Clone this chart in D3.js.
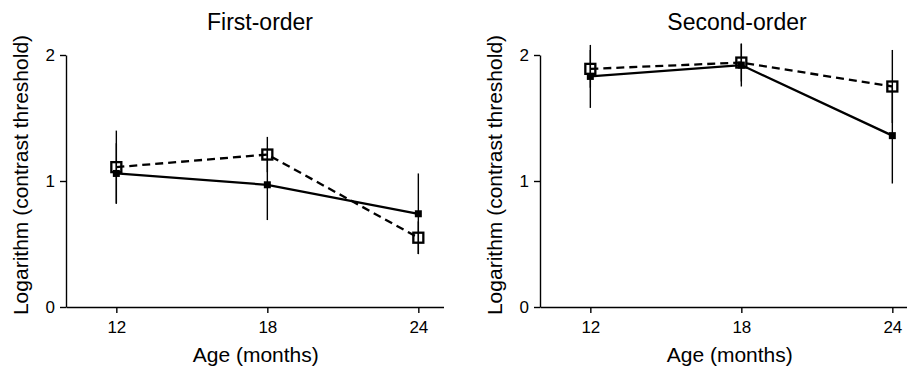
<!DOCTYPE html>
<html>
<head>
<meta charset="utf-8">
<script src="https://cdn.jsdelivr.net/npm/d3@7"></script>
<style>
  html, body { margin: 0; padding: 0; background: #fff; }
  svg { display: block; font-family: "Liberation Sans", Arial, Helvetica, sans-serif; }
</style>
</head>
<body>
<svg id="chart" width="907" height="367"></svg>
<script>
// ---- data ----
const ages = [12, 18, 24];
const xTicks = [12, 18, 24];
const yTicks = [0, 1, 2];
const panelTitles = ["First-order", "Second-order"];
const xLabel = "Age (months)";
const yLabel = "Logarithm (contrast threshold)";

const firstSolid = [1.06, 0.97, 0.74];
const firstSolidErr = [0.24, 0.28, 0.32];
const firstDashed = [1.11, 1.21, 0.55];
const firstDashedErr = [0.29, 0.14, 0.13];

const secondSolid = [1.83, 1.92, 1.36];
const secondSolidErr = [0.25, 0.17, 0.38];
const secondDashed = [1.89, 1.94, 1.75];
const secondDashedErr = [0.15, 0.15, 0.29];

// ---- layout ----
const svg = d3.select("#chart");
const panels = [
  { x0: 66, title: panelTitles[0], titleX: 260, solid: firstSolid, solidErr: firstSolidErr, dashed: firstDashed, dashedErr: firstDashedErr },
  { x0: 540, title: panelTitles[1], titleX: 737, solid: secondSolid, solidErr: secondSolidErr, dashed: secondDashed, dashedErr: secondDashedErr }
];
const plotW = 377.5;
const yTop = 55, yBot = 307;

panels.forEach(p => {
  const x = d3.scaleLinear().domain([10, 25]).range([p.x0, p.x0 + plotW]);
  const y = d3.scaleLinear().domain([0, 2]).range([yBot, yTop]);
  const g = svg.append("g");

  // axes
  const xa = g.append("g").attr("transform", `translate(0,${yBot})`)
    .call(d3.axisBottom(x).tickValues(xTicks).tickSize(6).tickSizeOuter(0).tickPadding(8).tickFormat(d3.format("d")));
  const ya = g.append("g").attr("transform", `translate(${p.x0},0)`)
    .call(d3.axisLeft(y).tickValues(yTicks).tickSize(6).tickSizeOuter(0).tickPadding(5).tickFormat(d3.format("d")));
  [xa, ya].forEach(a => {
    a.attr("font-size", 17).attr("font-family", "'Liberation Sans', Arial, sans-serif");
    a.selectAll("path, line").attr("stroke", "#000").attr("stroke-width", 1.4);
    a.selectAll("text").attr("fill", "#000").attr("font-size", 17).style("font-size", "17px");
  });

  // titles & labels
  g.append("text").attr("x", p.titleX).attr("y", 30).attr("text-anchor", "middle")
    .style("font-size", "23px").attr("fill", "#000").text(p.title);
  g.append("text").attr("x", p.x0 + plotW / 2 + 1).attr("y", 362).attr("text-anchor", "middle")
    .style("font-size", "21px").attr("fill", "#000").text(xLabel);
  g.append("text").attr("transform", `translate(${p.x0 - 38},${(yTop + yBot) / 2 - 6}) rotate(-90)`)
    .attr("text-anchor", "middle").style("font-size", "21px").attr("fill", "#000").text(yLabel);

  const series = [
    { v: p.solid, e: p.solidErr, dash: null },
    { v: p.dashed, e: p.dashedErr, dash: "8,5" }
  ];

  // error bars
  series.forEach(s => {
    g.selectAll(null).data(ages.map((a, i) => ({ a, v: s.v[i], e: s.e[i] }))).enter()
      .append("line")
      .attr("x1", d => x(d.a)).attr("x2", d => x(d.a))
      .attr("y1", d => y(d.v + d.e)).attr("y2", d => y(d.v - d.e))
      .attr("stroke", "#000").attr("stroke-width", 1.4);
  });

  // lines
  const line = d3.line().x((d, i) => x(ages[i])).y(d => y(d));
  series.forEach(s => {
    g.append("path").datum(s.v).attr("d", line)
      .attr("fill", "none").attr("stroke", "#000").attr("stroke-width", 2.3)
      .attr("stroke-dasharray", s.dash);
  });

  // markers: filled squares (solid), open squares (dashed)
  const fs = 7, os = 10;
  g.selectAll(null).data(p.solid).enter().append("rect")
    .attr("x", (d, i) => x(ages[i]) - fs / 2).attr("y", d => y(d) - fs / 2)
    .attr("width", fs).attr("height", fs).attr("fill", "#000");
  g.selectAll(null).data(p.dashed).enter().append("rect")
    .attr("x", (d, i) => x(ages[i]) - os / 2).attr("y", d => y(d) - os / 2)
    .attr("width", os).attr("height", os).attr("fill", "none")
    .attr("stroke", "#000").attr("stroke-width", 2.3);
});
</script>
</body>
</html>
